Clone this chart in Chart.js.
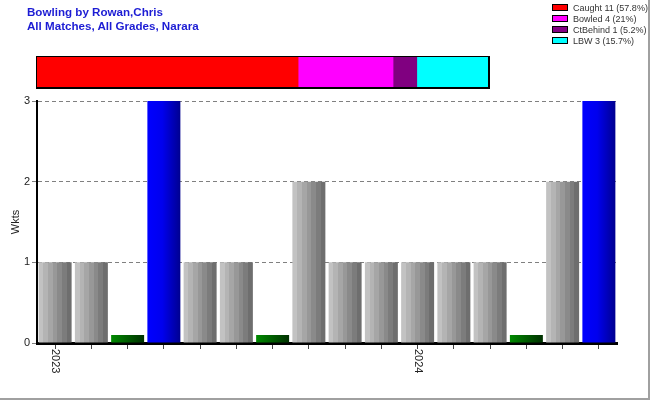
<!DOCTYPE html>
<html lang="en">
<head>
  <meta charset="UTF-8">
  <title>Bowling by Rowan,Chris</title>
  <script src="https://cdn.jsdelivr.net/npm/chart.js"></script>
  <style>
    body { margin: 0; background: #fff; font-family: Arial, "Liberation Sans", sans-serif; }
    #wrap { position: relative; width: 650px; height: 400px; overflow: hidden; }
    #frame { position: absolute; left: 0; top: 0; width: 648px; height: 398px;
             border-right: 2px solid #a0a0a0; border-bottom: 2px solid #a0a0a0; }
    #main { position: absolute; left: 0; top: 0; }
    .title { position: absolute; left: 27px; color: #1c1cd4; font-weight: bold; font-size: 11.6px; }
    #split { position: absolute; left: 36px; top: 56px; border: 1px solid #000;
             border-right-width: 2px; border-bottom-width: 2px; line-height: 0; }
    #legend { position: absolute; left: 552px; top: 3px; font-size: 9px; color: #333; }
    .row { height: 11px; line-height: 11px; white-space: nowrap; }
    .sw { display: inline-block; width: 14px; height: 5px; border: 1px solid #000;
          vertical-align: middle; margin-right: 5px; position: relative; top: -1px; }
  </style>
</head>
<body>
<div id="wrap">
  <canvas id="main" width="650" height="400"></canvas>
  <div class="title" style="top:5px">Bowling by Rowan,Chris</div>
  <div class="title" style="top:19px">All Matches, All Grades, Narara</div>
  <div id="split"><canvas id="bar" width="451" height="30"></canvas></div>
  <div id="legend"></div>
  <div id="frame"></div>
</div>

<script>
  // wickets per innings, in order
  const labels = ['2023', '', '', '', '', '', '', '', '', '', '2024', '', '', '', '', ''];
  const wickets = [1, 1, 0, 3, 1, 1, 0, 2, 1, 1, 1, 1, 1, 0, 2, 3];
  const zeroStub = 0.1; // zero-wicket bars are drawn as a thin green stub

  // how the wickets fell
  const howOut = ['Caught', 'Bowled', 'CtBehind', 'LBW'];
  const howCount = [11, 4, 1, 3];
  const howColor = ['#ff0000', '#ff00ff', '#800080', '#00ffff'];

  const total = howCount.reduce((a, b) => a + b, 0);
  const maxW = Math.max(...wickets);

  // legend
  const legend = document.getElementById('legend');
  howOut.forEach((name, i) => {
    const pct = Math.floor(howCount[i] / total * 1000) / 10;
    const row = document.createElement('div');
    row.className = 'row';
    row.innerHTML = '<span class="sw" style="background:' + howColor[i] + '"></span>' +
      name + ' ' + howCount[i] + ' (' + pct + '%)';
    legend.appendChild(row);
  });

  const barPct = 0.91;

  // striped / shaded fill per bar
  function barFill(context) {
    const chart = context.chart;
    const x = chart.scales.x;
    if (!chart.chartArea || !x) return '#999';
    const cx = x.getPixelForValue(context.dataIndex);
    const w = x.width / labels.length * barPct;
    const g = chart.ctx.createLinearGradient(cx - w / 2, 0, cx + w / 2, 0);
    const v = wickets[context.dataIndex];
    if (v === 0) {
      g.addColorStop(0, '#008a00');
      g.addColorStop(1, '#003000');
    } else if (v === maxW) {
      g.addColorStop(0, '#0000ff');
      g.addColorStop(0.45, '#0000ee');
      g.addColorStop(1, '#000090');
    } else {
      const greys = ['#c2c2c2', '#b4b4b4', '#a6a6a6', '#989898', '#8a8a8a', '#7c7c7c', '#6e6e6e'];
      greys.forEach((c, k) => {
        g.addColorStop(k / greys.length, c);
        g.addColorStop((k + 1) / greys.length - 0.0001, c);
      });
    }
    return g;
  }

  // x labels rotated clockwise, reading downwards
  const downLabels = {
    id: 'downLabels',
    afterDraw(chart) {
      const x = chart.scales.x;
      const c = chart.ctx;
      c.save();
      c.font = '11px Arial, "Liberation Sans", sans-serif';
      c.fillStyle = '#222';
      c.textBaseline = 'middle';
      c.textAlign = 'left';
      labels.forEach((t, i) => {
        if (!t) return;
        c.save();
        c.translate(x.getPixelForValue(i), x.top + 6);
        c.rotate(Math.PI / 2);
        c.fillText(t, 0, 0);
        c.restore();
      });
      c.restore();
    }
  };

  new Chart(document.getElementById('main'), {
    type: 'bar',
    data: {
      labels: labels,
      datasets: [{
        data: wickets.map(v => v === 0 ? zeroStub : v),
        backgroundColor: barFill,
        borderWidth: 0,
        barPercentage: barPct,
        categoryPercentage: 1
      }]
    },
    options: {
      responsive: false,
      animation: false,
      layout: { padding: { left: 0, top: 101, right: 33, bottom: 0 } },
      plugins: { legend: { display: false }, tooltip: { enabled: false } },
      scales: {
        x: {
          afterFit: s => { s.height = 57; },
          grid: { display: true, drawOnChartArea: false, drawTicks: true, tickLength: 6, offset: false, color: '#444' },
          border: { display: true, color: '#000', width: 3 },
          ticks: { autoSkip: false, maxRotation: 0, callback: () => '' }
        },
        y: {
          min: 0, max: 3,
          afterFit: s => { s.width = 37; },
          grid: { color: '#808080', drawTicks: true, tickLength: 5 },
          border: { display: true, color: '#000', width: 2, dash: [4, 3] },
          ticks: { stepSize: 1, padding: 2, color: '#222', font: { family: 'Arial, "Liberation Sans", sans-serif', size: 11 } },
          title: { display: true, text: 'Wkts', color: '#222', padding: { top: 9, bottom: 0 },
                   font: { family: 'Arial, "Liberation Sans", sans-serif', size: 11 } }
        }
      }
    },
    plugins: [downLabels]
  });

  // dismissal split bar
  new Chart(document.getElementById('bar'), {
    type: 'bar',
    data: {
      labels: [''],
      datasets: howOut.map((name, i) => ({
        label: name,
        data: [howCount[i]],
        backgroundColor: howColor[i],
        borderWidth: 0,
        barPercentage: 1,
        categoryPercentage: 1
      }))
    },
    options: {
      indexAxis: 'y',
      responsive: false,
      animation: false,
      layout: { padding: 0 },
      plugins: { legend: { display: false }, tooltip: { enabled: false } },
      scales: {
        x: { stacked: true, min: 0, max: total, display: false },
        y: { stacked: true, display: false }
      }
    }
  });
</script>
</body>
</html>
